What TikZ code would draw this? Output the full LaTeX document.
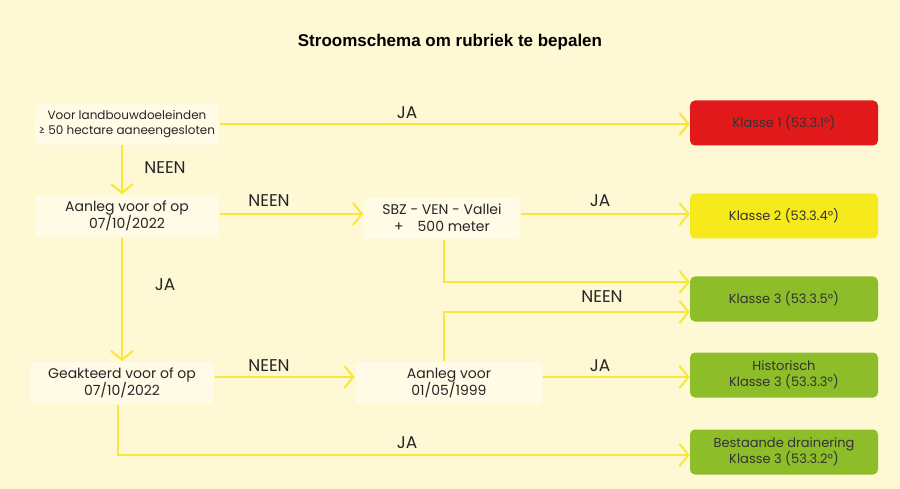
\documentclass[tikz,border=0pt]{standalone}
\usepackage{fontspec}
\setmainfont{Poppins}
\newfontfamily\titlefont{Liberation Sans}
\usetikzlibrary{arrows.meta}
\definecolor{bg}{HTML}{FFF8D4}
\definecolor{boxf}{HTML}{FFFBE6}
\definecolor{ln}{HTML}{F8E63A}
\definecolor{kred}{HTML}{E2191B}
\definecolor{kyel}{HTML}{F7EA1C}
\definecolor{kgrn}{HTML}{8DBE2A}
\tikzset{
  qbox/.style={rounded corners=4pt, fill=boxf, draw=ln!25, line width=0.6pt, minimum width=185pt, minimum height=43pt, align=center, text=black!85, font=\fontsize{14}{17}\selectfont},
  kbox/.style={rounded corners=5pt, minimum width=188pt, minimum height=45pt, align=center, text=black!80, font=\fontsize{13}{16}\selectfont},
  conn/.style={draw=ln, line width=2pt, -{Straight Barb[length=9pt,width=22pt,line width=2pt]}},
  plain/.style={draw=ln, line width=2pt},
  lab/.style={font=\fontsize{17}{20}\selectfont, text=black!85}
}
\begin{document}
\begin{tikzpicture}[x=1pt,y=-1pt]
\fill[bg] (0,0) rectangle (900,489);
\useasboundingbox (0,0) rectangle (900,489);
\node[font=\titlefont\bfseries\fontsize{17}{20}\selectfont] (title) at (450,42) {Stroomschema om rubriek te bepalen};
\node[qbox, font=\fontsize{12}{15}\selectfont] (A) at (127,124) {Voor landbouwdoeleinden\\≥ 50 hectare aaneengesloten};
\node[qbox] (B) at (127,216) {Aanleg voor of op\\07/10/2022};
\node[qbox, minimum width=157pt] (C) at (442,218) {SBZ - VEN - Vallei\\+\quad 500 meter};
\node[qbox] (D) at (122,383) {Geakteerd voor of op\\07/10/2022};
\node[qbox, minimum width=188pt] (E) at (449,383) {Aanleg voor\\01/05/1999};
\node[kbox, fill=kred] (K1) at (784,123) {Klasse 1 (53.3.1°)};
\node[kbox, fill=kyel] (K2) at (784,216) {Klasse 2 (53.3.4°)};
\node[kbox, fill=kgrn] (K3) at (784,299) {Klasse 3 (53.3.5°)};
\node[kbox, fill=kgrn] (H) at (784,375) {Historisch\\Klasse 3 (53.3.3°)};
\node[kbox, fill=kgrn] (BD) at (784,452) {Bestaande drainering\\Klasse 3 (53.3.2°)};
\draw[conn] (A.east |- 0,124) -- (K1.west |- 0,124);
\node[lab] (l1) at (407,113) {JA};
\draw[conn] (122,145) -- (B.north -| 122,0);
\node[lab] (l2) at (165,168) {NEEN};
\draw[conn] (B.east |- 0,214) -- (C.west |- 0,214);
\node[lab] (l3) at (269,201) {NEEN};
\draw[conn] (C.east |- 0,214) -- (K2.west |- 0,214);
\node[lab] (l4) at (600,201) {JA};
\coordinate (c1) at (444,282);
\draw[conn] (C.south -| 444,0) -- (c1) -- (K3.west |- c1);
\coordinate (c2) at (444,312);
\draw[conn] (E.north -| 444,0) -- (c2) -- (K3.west |- c2);
\node[lab] (l5) at (602,297) {NEEN};
\draw[conn] (122,238) -- (D.north -| 122,0);
\node[lab] (l6) at (165,285) {JA};
\draw[conn] (D.east |- 0,377) -- (E.west |- 0,377);
\node[lab] (l7) at (269,366) {NEEN};
\draw[conn] (E.east |- 0,377) -- (H.west |- 0,377);
\node[lab] (l8) at (600,366) {JA};
\coordinate (c3) at (118,455);
\draw[conn] (D.south -| 118,0) -- (c3) -- (BD.west |- c3);
\node[lab] (l9) at (407,443) {JA};
\end{tikzpicture}
\end{document}
